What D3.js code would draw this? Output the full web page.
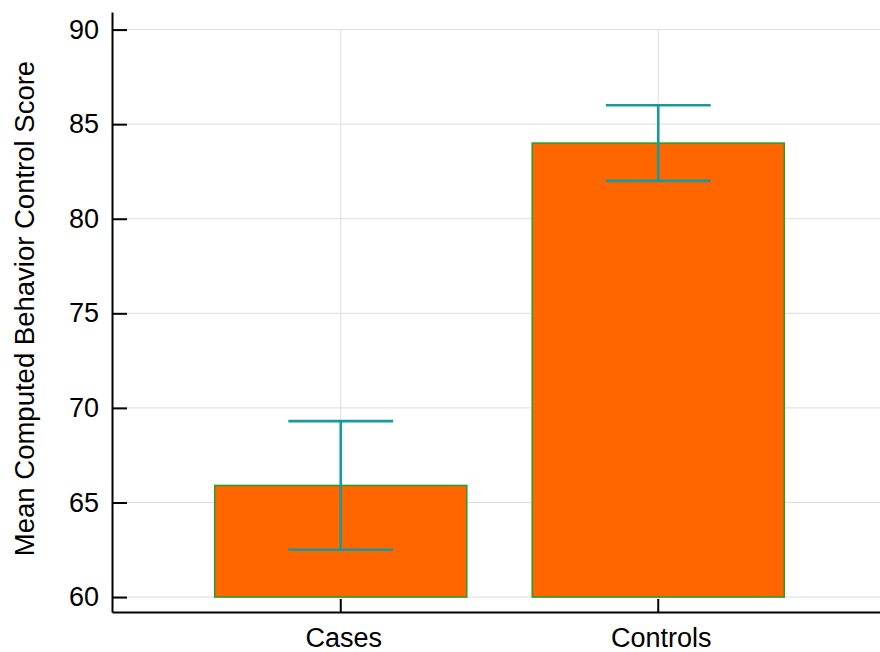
<!DOCTYPE html>
<html>
<head>
<meta charset="utf-8">
<script src="https://cdn.jsdelivr.net/npm/d3@7"></script>
<style>
  html, body { margin: 0; padding: 0; background: #fff; }
  svg { display: block; font-family: "Liberation Sans", Arial, sans-serif; }
</style>
</head>
<body>
<svg id="chart" width="880" height="652"></svg>
<script>
// Group means and their error half-widths
const groups = ["Cases", "Controls"];
const means = [65.9, 84.0];
const errors = [3.4, 2.0];
const yTicks = [60, 65, 70, 75, 80, 85, 90];
const yTitle = "Mean Computed Behavior Control Score";

const svg = d3.select("#chart");
const plotLeft = 112, plotRight = 887, plotTop = 12, plotBottom = 612;

const x = d3.scaleBand()
  .domain(groups)
  .range([plotLeft, plotRight])
  .paddingInner(0.206)
  .paddingOuter(0.3235);

const y = d3.scaleLinear()
  .domain([59.21, 90.93])
  .range([plotBottom, plotTop]);

// Horizontal grid lines at each y tick
svg.append("g")
  .selectAll("line")
  .data(yTicks)
  .join("line")
  .attr("x1", plotLeft)
  .attr("x2", 880)
  .attr("y1", d => y(d))
  .attr("y2", d => y(d))
  .attr("stroke", "#dddddd")
  .attr("stroke-width", 1);

// Vertical grid lines at group centres
svg.append("g")
  .selectAll("line")
  .data(groups)
  .join("line")
  .attr("x1", d => x(d) + x.bandwidth() / 2)
  .attr("x2", d => x(d) + x.bandwidth() / 2)
  .attr("y1", y(90))
  .attr("y2", plotBottom)
  .attr("stroke", "#dddddd")
  .attr("stroke-width", 1);

// Bars
svg.append("g")
  .selectAll("rect")
  .data(groups)
  .join("rect")
  .attr("x", d => x(d))
  .attr("width", x.bandwidth())
  .attr("y", (d, i) => y(means[i]))
  .attr("height", (d, i) => y(60) - y(means[i]))
  .attr("fill", "#ff6600")
  .attr("stroke", "#22a022")
  .attr("stroke-width", 1.5);

// Error bars
const capHalf = x.bandwidth() * 0.208;
const eb = svg.append("g")
  .attr("stroke", "#199999")
  .attr("stroke-width", 2.6)
  .selectAll("g")
  .data(groups)
  .join("g");
eb.append("line")
  .attr("x1", d => x(d) + x.bandwidth() / 2)
  .attr("x2", d => x(d) + x.bandwidth() / 2)
  .attr("y1", (d, i) => y(means[i] - errors[i]))
  .attr("y2", (d, i) => y(means[i] + errors[i]));
eb.append("line")
  .attr("x1", d => x(d) + x.bandwidth() / 2 - capHalf)
  .attr("x2", d => x(d) + x.bandwidth() / 2 + capHalf)
  .attr("y1", (d, i) => y(means[i] + errors[i]))
  .attr("y2", (d, i) => y(means[i] + errors[i]));
eb.append("line")
  .attr("x1", d => x(d) + x.bandwidth() / 2 - capHalf)
  .attr("x2", d => x(d) + x.bandwidth() / 2 + capHalf)
  .attr("y1", (d, i) => y(means[i] - errors[i]))
  .attr("y2", (d, i) => y(means[i] - errors[i]));

// Y axis with inward ticks
const yAxis = svg.append("g")
  .attr("transform", `translate(${plotLeft},0)`)
  .call(d3.axisLeft(y).tickValues(yTicks).tickSizeInner(-15).tickSizeOuter(0).tickPadding(13));
yAxis.select(".domain").attr("stroke", "#000").attr("stroke-width", 2);
yAxis.selectAll(".tick line").attr("stroke", "#000").attr("stroke-width", 2);
yAxis.selectAll(".tick text")
  .attr("font-size", 27)
  .attr("font-family", "Liberation Sans, Arial, sans-serif")
  .attr("fill", "#000");

// X axis with inward ticks
const xAxis = svg.append("g")
  .attr("transform", `translate(0,${plotBottom})`)
  .call(d3.axisBottom(x).tickSizeInner(-13).tickSizeOuter(0).tickPadding(16));
xAxis.select(".domain").attr("stroke", "#000").attr("stroke-width", 2);
xAxis.selectAll(".tick line").attr("stroke", "#000").attr("stroke-width", 2);
xAxis.selectAll(".tick text")
  .attr("font-size", 27)
  .attr("font-family", "Liberation Sans, Arial, sans-serif")
  .attr("fill", "#000")
  .attr("dx", 3);

// Y axis title
svg.append("text")
  .attr("transform", `translate(34,${(60 + 557) / 2}) rotate(-90)`)
  .attr("text-anchor", "middle")
  .attr("font-size", 27.5)
  .attr("fill", "#000")
  .text(yTitle);
</script>
</body>
</html>
